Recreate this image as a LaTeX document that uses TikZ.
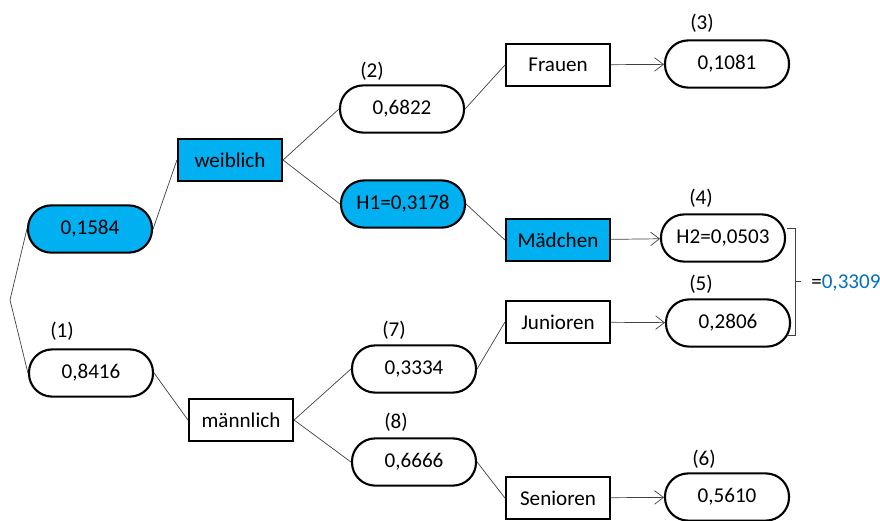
\documentclass[tikz,border=0pt]{standalone}
\usepackage{fontspec}
\setmainfont{Carlito}
\usepackage{tikz}
\usetikzlibrary{arrows.meta, positioning, calc}
\definecolor{pathcyan}{HTML}{00B0F0}
\definecolor{sumblue}{HTML}{0070C0}
\definecolor{linegray}{HTML}{404040}

\tikzset{
  prob/.style={draw=black, line width=1.5pt, rectangle, rounded corners=0.58cm,
    minimum width=3.1cm, minimum height=1.18cm, font=\fontsize{15}{18}\selectfont},
  event/.style={draw=black, line width=1.5pt, rectangle,
    minimum width=2.6cm, minimum height=1.03cm, font=\fontsize{15}{18}\selectfont},
  marked/.style={fill=pathcyan},
  stepno/.style={font=\fontsize{15}{18}\selectfont},
  branch/.style={linegray, line width=0.5pt},
  leaf/.style={linegray, line width=0.5pt, -{Straight Barb[length=2.2mm, width=3.4mm]}}
}

\begin{document}
\begin{tikzpicture}[x=0.025cm, y=-0.025cm]
  \useasboundingbox (0,0) rectangle (880,520);

  % root split
  \coordinate (root) at (10,300);

  % first level
  \node[prob, marked] (pw) at (90,229) {0,1584};
  \node[prob] (pm) at (91,373) {0,8416};
  \node[stepno] (n1) at (62,331) {(1)};

  % gender
  \node[event, marked] (weiblich) at (230,160) {weiblich};
  \node[event] (maennlich) at (241,420) {männlich};

  % second level
  \node[prob] (pf) at (402,109) {0,6822};
  \node[stepno] (n2) at (372,71) {(2)};
  \node[prob, marked] (ph) at (403,204) {H1=0,3178};
  \node[prob] (pj) at (414,369) {0,3334};
  \node[stepno] (n7) at (394,330) {(7)};
  \node[prob] (ps) at (414,462) {0,6666};
  \node[stepno] (n8) at (396,422) {(8)};

  % groups
  \node[event] (frauen) at (558,65) {Frauen};
  \node[event, marked] (maedchen) at (558,240) {Mädchen};
  \node[event] (junioren) at (558,322) {Junioren};
  \node[event] (senioren) at (558,498) {Senioren};

  % results
  \node[prob] (rf) at (727,64) {0,1081};
  \node[stepno] (n3) at (702,23) {(3)};
  \node[prob] (rm) at (723,238) {H2=0,0503};
  \node[stepno] (n4) at (701,198) {(4)};
  \node[prob] (rj) at (728,323) {0,2806};
  \node[stepno] (n5) at (701,284) {(5)};
  \node[prob] (rs) at (727,497) {0,5610};
  \node[stepno] (n6) at (704,459) {(6)};

  % branches
  \draw[branch] (pw.west) -- (root) -- (pm.west);
  \draw[branch] (pw.east) -- (weiblich.west);
  \draw[branch] (pm.east) -- (maennlich.west);
  \draw[branch] (weiblich.east) -- (pf.west);
  \draw[branch] (weiblich.east) -- (ph.west);
  \draw[branch] (maennlich.east) -- (pj.west);
  \draw[branch] (maennlich.east) -- (ps.west);
  \draw[branch] (pf.east) -- (frauen.west);
  \draw[branch] (ph.east) -- (maedchen.west);
  \draw[branch] (pj.east) -- (junioren.west);
  \draw[branch] (ps.east) -- (senioren.west);

  % arrows to results
  \draw[leaf] (frauen) -- (rf);
  \draw[leaf] (maedchen) -- (rm);
  \draw[leaf] (junioren) -- (rj);
  \draw[leaf] (senioren) -- (rs);

  % bracket and sum
  \coordinate (btop) at (787,228);
  \coordinate (bbot) at (787,335);
  \draw[linegray, line width=0.6pt] (btop) -- ++(8,0) |- (bbot);
  \draw[linegray, line width=0.6pt] (795,281) -- (801,281);
  \node[stepno, anchor=west, inner sep=0pt] (sum) at (811,283) {=\textcolor{sumblue}{0,3309}};
\end{tikzpicture}
\end{document}
